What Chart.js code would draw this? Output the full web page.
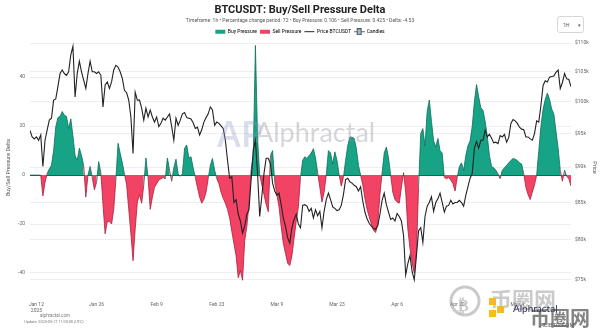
<!DOCTYPE html>
<html>
<head>
<meta charset="utf-8">
<title>BTCUSDT: Buy/Sell Pressure Delta</title>
<script src="https://cdn.jsdelivr.net/npm/chart.js@4.4.1/dist/chart.umd.min.js"></script>
<style>
  html, body { margin: 0; padding: 0; background: #ffffff; }
  #wrap { position: relative; width: 600px; height: 329px; overflow: hidden; }
  #chart { display: block; }
  .tf {
    position: absolute; left: 557px; top: 16px; width: 27px; height: 17px;
    box-sizing: border-box; border: 1px solid #d6d6d6; border-radius: 3px;
    font: 5px Roboto, sans-serif; color: #555; background: #fff;
  }
  .tf span { position: absolute; top: 5px; }
</style>
</head>
<body>
<div id="wrap">
  <canvas id="chart" width="600" height="329"></canvas>
  <div class="tf"><span style="left:5px">1H</span><span style="left:20px">&#9662;</span></div>
</div>
<script>
// Hourly series sampled every 12 hours, first sample 2025-01-10 12:00 UTC
const startUtc = Date.UTC(2025, 0, 10, 12);
const stepHours = 12;

// Buy/Sell pressure delta (positive = buy pressure, negative = sell pressure)
const delta = [
  0, 0, 0, 0, 0, 0, -8.5, -3, 0.7, 2.5,
  4, 10, 19.7, 23.5, 24, 26, 24.5, 24, 19, 23,
  16, 8, 6, 11, 8, 4, -9, 0, 3.5, -1,
  -6, -3, 5.5, 1, -12, -24, -19, -19, -20, -14,
  -2, 13, 9, 5, 0.5, -4, -14, -24, -35, -22,
  -11, -8, -11.5, -4, 7, -1, -14, -9, -5, -3.5,
  -2, -1.5, -1, -1.5, 7, 2, -2.5, 3, 6.5, 0.5,
  -0.5, 0.5, 11, 12.3, 7, 7.5, 3, -1, -5, -9,
  -11.5, -10, -7, -1.5, 4, 6.8, 2, -1.5, -3.5, -7,
  -9.5, -11.5, -14, -17.5, -23, -28, -33, -42, -39, -43,
  -27, -21, -12, 2, 8, 53, 15, 0, -4, -8,
  -12, -15, 8, 10, -3, -8, -13, -21, -28, -32,
  -36, -37, -33, -26, -19, -13, -1, 6, 7.5, 6.8,
  8, 9, 10.8, 7, 1, -5, -11, -7, 0, 10,
  9, 4.5, 9.5, 6, 0, -4.5, -1, 6, 12, 15.5,
  15.5, 15, 11, 4, 0, -4, -9.5, -14, -17, -20,
  -22.5, -23.5, -20, -8, 1, 9, 11.5, 7, 0, -7,
  -10, -11, -11.5, -5, 1, -7, -22, -30, -36, -40,
  -32, -5, 17, 19, 12, 26, 30.7, 22, 14, 11.5,
  15, 10, 9, -1, -1.5, -1, -2, -3.5, -6.5, -1,
  3.5, 5, 2, 8, 12, 14, 20, 30, 37, 32,
  27.5, 26.5, 22, 16, 8, 3.5, 3, 2, 0.5, -1.5,
  2, 3, 4, 5, 6, 6.8, 6.5, 6, 5, 4.5,
  0.5, -5, -8, -10, -7, -4, 0, 10, 20, 27,
  31, 33.5, 31, 27, 25, 18, 11, 2, -2.5, 2,
  -0.5, -1.5, -4.53
];

// BTCUSDT close, thousands of USD
const closeK = [
  95.5, 94.5, 94.2, 94.5, 94.0, 94.8, 90.1, 94.0, 95.6, 97.1,
  97.4, 100.3, 100.5, 102.5, 104.7, 105.3, 104.7, 104.4, 105.0, 107.9,
  109.4, 100.8, 104.7, 106.8, 105.0, 103.6, 102.2, 104.7, 106.8, 105.0,
  105.0, 104.7, 105.0, 104.4, 99.2, 102.8, 103.3, 102.2, 103.3, 105.3,
  106.1, 105.8, 105.0, 103.9, 101.9, 101.5, 100.3, 97.6, 92.0, 101.6,
  100.3, 100.3, 99.0, 97.1, 99.0, 97.6, 98.7, 97.6, 96.8, 97.6,
  96.1, 96.6, 97.4, 97.1, 97.6, 98.1, 96.1, 94.0, 97.4, 96.3,
  97.1, 98.1, 98.3, 97.5, 97.4, 97.3, 96.7, 95.8, 96.0, 94.8,
  95.6, 96.8, 97.5, 98.1, 99.2, 98.7, 96.3, 96.8, 96.6, 96.2,
  95.8, 94.0, 91.0, 88.4, 88.6, 85.0, 85.4, 83.4, 82.5, 80.9,
  81.8, 83.4, 84.0, 88.2, 92.5, 94.0, 89.1, 83.1, 85.9, 89.1,
  91.3, 91.3, 90.5, 87.7, 86.6, 86.0, 86.3, 84.7, 82.9, 81.8,
  80.3, 79.6, 81.6, 82.7, 83.4, 82.1, 81.6, 84.6, 84.7, 84.5,
  83.8, 84.2, 82.9, 84.0, 83.2, 83.8, 81.6, 83.8, 85.4, 86.3,
  85.4, 84.4, 84.2, 83.9, 84.0, 84.6, 86.1, 88.2, 88.4, 87.9,
  87.7, 87.4, 87.2, 86.6, 87.2, 85.2, 83.7, 82.8, 82.2, 81.8,
  81.5, 81.4, 81.9, 83.4, 85.3, 86.3, 84.7, 83.7, 82.7, 82.9,
  82.5, 83.5, 83.1, 82.5, 80.6, 75.6, 77.0, 78.0, 76.0, 75.0,
  78.0, 81.2, 81.6, 79.7, 83.1, 84.5, 85.0, 85.8, 83.8, 85.0,
  85.5, 86.3, 85.0, 83.7, 84.5, 84.6, 85.3, 84.8, 85.0, 85.0,
  85.3, 85.0, 84.5, 86.0, 87.2, 88.4, 89.1, 92.8, 93.8, 92.8,
  94.0, 94.0, 95.5, 94.5, 94.9, 94.3, 93.6, 93.7, 93.5, 94.7,
  94.5, 94.9, 93.7, 94.4, 96.6, 97.2, 97.0, 96.6, 96.0, 95.7,
  95.6, 94.5, 94.5, 94.2, 94.0, 95.0, 97.0, 96.8, 99.5, 102.7,
  103.5, 103.3, 104.1, 104.2, 104.3, 104.9, 105.3, 102.2, 103.2, 104.7,
  103.8, 103.7, 102.5
];

// Axis ticks
const dateTicks = ['2025-01-12', '2025-01-26', '2025-02-09', '2025-02-23', '2025-03-09',
                   '2025-03-23', '2025-04-06', '2025-04-20', '2025-05-04'];
const deltaTicks = [-40, -20, 0, 20, 40];
const priceTicksK = [75, 80, 85, 90, 95, 100, 105, 110];

const BUY = 'rgb(22,163,134)';
const SELL = 'rgb(243,67,101)';
const BUY_EDGE = 'rgb(14,110,92)';
const SELL_EDGE = 'rgb(170,30,60)';
const MONTHS = ['Jan','Feb','Mar','Apr','May','Jun','Jul','Aug','Sep','Oct','Nov','Dec'];

const hourMs = 3600000;
const times = delta.map((_, i) => startUtc + i * stepHours * hourMs);
const tickTimes = dateTicks.map(d => Date.parse(d + 'T00:00:00Z'));

function fmtDate(t, withYear) {
  const d = new Date(t);
  const s = MONTHS[d.getUTCMonth()] + ' ' + d.getUTCDate();
  return withYear ? [s, String(d.getUTCFullYear())] : s;
}

// small candlestick glyph for the legend
const candleIcon = (() => {
  const c = document.createElement('canvas');
  c.width = 11; c.height = 7;
  const g = c.getContext('2d');
  g.strokeStyle = '#666'; g.lineWidth = 1;
  g.beginPath(); g.moveTo(0, 3.5); g.lineTo(11, 3.5); g.stroke();
  g.fillStyle = '#9fb7c8'; g.fillRect(3, 0.5, 5, 6);
  g.strokeStyle = '#555'; g.strokeRect(3.5, 0.5, 4, 6);
  return c;
})();

// fixed legend block height so the plot starts right under it
const legendBlock = {
  id: 'legendBlock',
  beforeInit(chart) {
    const fit = chart.legend.fit;
    chart.legend.fit = function () { fit.bind(chart.legend)(); this.height = 16.8; };
  }
};

// brand marks and footer text
const brandMarks = {
  id: 'brandMarks',
  afterDatasetsDraw(chart) {
    const ctx = chart.ctx;
    ctx.save();
    ctx.textBaseline = 'alphabetic';
    ctx.fillStyle = 'rgba(140,150,195,0.32)';
    ctx.font = '600 36px "Open Sans"';
    ctx.fillText('AP', 217, 147);
    ctx.fillStyle = 'rgba(140,142,152,0.36)';
    ctx.font = '27px Lato';
    ctx.fillText('Alphractal', 255, 142);
    ctx.restore();
  },
  afterDraw(chart) {
    const ctx = chart.ctx;
    ctx.save();
    ctx.fillStyle = '#777';
    ctx.textAlign = 'center';
    ctx.font = '4.5px Roboto';
    ctx.fillText('alphractal.com', 55, 316);
    ctx.font = '3.8px Roboto';
    ctx.fillText('Update: 2025-05-17 11:00:00 (UTC)', 54, 322);

    // site watermark, lower right
    ctx.textAlign = 'left';
    ctx.strokeStyle = 'rgba(150,150,150,0.5)';
    ctx.lineWidth = 3;
    ctx.beginPath(); ctx.arc(465, 301, 14, 0, Math.PI * 2); ctx.stroke();
    ctx.fillStyle = 'rgba(150,150,150,0.5)';
    ctx.font = 'bold 16px "DejaVu Sans"';
    ctx.fillText('\u20bf', 458, 307);
    ctx.font = 'bold 22px "Noto Sans CJK SC"';
    ctx.fillText('\u5e01\u5708\u7f51', 490, 300);
    ctx.fillStyle = 'rgba(247,183,24,0.95)';
    ctx.fillRect(489, 298, 7, 7);
    ctx.fillRect(497, 306, 7, 7);
    ctx.fillRect(489, 310, 7, 7);
    ctx.fillStyle = 'rgba(90,90,90,0.75)';
    ctx.font = 'bold 20px "Noto Sans CJK SC"';
    ctx.fillText('\u5e01\u5708\u7f51', 530, 318);
    ctx.fillStyle = '#2c3350';
    ctx.font = '10px Lato';
    ctx.fillText('Alphractal', 513, 309);
    ctx.fillStyle = 'rgba(80,80,80,0.9)';
    ctx.font = '6px Roboto';
    ctx.fillText('ALIBTC.COM', 540, 325);
    ctx.restore();
  }
};

Chart.defaults.font.family = 'Roboto';
Chart.defaults.color = '#666';

new Chart(document.getElementById('chart'), {
  type: 'line',
  data: {
    datasets: [
      {
        label: 'Price BTCUSDT',
        yAxisID: 'y1',
        data: times.map((t, i) => ({ x: t, y: closeK[i] })),
        borderColor: '#222',
        borderWidth: 1.1,
        pointRadius: 0,
        fill: false,
        order: 1
      },
      {
        label: 'Buy/Sell Pressure',
        yAxisID: 'y',
        data: times.map((t, i) => ({ x: t, y: delta[i] })),
        borderWidth: 0.8,
        pointRadius: 0,
        fill: { target: { value: 0 }, above: BUY, below: SELL },
        segment: {
          borderColor: c => (c.p0.parsed.y + c.p1.parsed.y) >= 0 ? BUY_EDGE : SELL_EDGE
        },
        order: 2
      }
    ]
  },
  options: {
    responsive: false,
    animation: false,
    layout: { padding: 0 },
    plugins: {
      title: {
        display: true,
        text: 'BTCUSDT: Buy/Sell Pressure Delta',
        color: '#222',
        font: { size: 11, weight: 'bold' },
        padding: { top: 4, bottom: 1 }
      },
      subtitle: {
        display: true,
        text: 'Timeframe: 1h \u2022 Percentage change period: 72 \u2022 Buy Pressure: 0.106 \u2022 Sell Pressure: 0.425 \u2022 Delta: -4.53',
        color: '#555',
        font: { size: 5 },
        padding: { top: 0, bottom: 2 }
      },
      legend: {
        display: true,
        labels: {
          usePointStyle: true,
          pointStyleWidth: 10,
          boxHeight: 4,
          padding: 3,
          color: '#555',
          font: { size: 5 },
          generateLabels: () => [
            { text: 'Buy Pressure', fillStyle: BUY, strokeStyle: BUY, lineWidth: 0, pointStyle: 'rect', datasetIndex: 1 },
            { text: 'Sell Pressure', fillStyle: SELL, strokeStyle: SELL, lineWidth: 0, pointStyle: 'rect', datasetIndex: 1 },
            { text: 'Price BTCUSDT', fillStyle: '#222', strokeStyle: '#222', lineWidth: 1, pointStyle: 'line', datasetIndex: 0 },
            { text: 'Candles', pointStyle: candleIcon, lineWidth: 0, datasetIndex: 0 }
          ]
        }
      },
      tooltip: { enabled: false }
    },
    scales: {
      x: {
        type: 'linear',
        min: times[0],
        max: times[times.length - 1],
        offset: false,
        grid: { display: false, drawTicks: false },
        border: { display: false },
        afterBuildTicks: s => { s.ticks = tickTimes.map(v => ({ value: v })); },
        afterFit: s => { s.height = 37; },
        ticks: {
          autoSkip: false,
          maxRotation: 0,
          padding: 10,
          color: '#666',
          font: { size: 5 },
          callback: (v, i) => fmtDate(v, i === 0)
        }
      },
      y: {
        position: 'left',
        min: -47.8,
        max: 54,
        border: { display: false },
        grid: {
          drawTicks: false,
          lineWidth: 1,
          color: c => c.tick && c.tick.value === 0 ? '#3b524e' : '#eeeeee'
        },
        afterBuildTicks: s => { s.ticks = deltaTicks.map(v => ({ value: v })); },
        afterFit: s => { s.width = 30; },
        ticks: { padding: 5, color: '#666', font: { size: 5 } },
        title: {
          display: true,
          text: 'Buy/Sell Pressure Delta',
          color: '#555',
          font: { size: 5.5 },
          padding: { top: 5.5, bottom: 0 }
        }
      },
      y1: {
        type: 'logarithmic',
        position: 'right',
        min: 73.55,
        max: 110,
        border: { display: false },
        grid: { drawTicks: false, color: '#eeeeee' },
        afterBuildTicks: s => { s.ticks = priceTicksK.map(v => ({ value: v })); },
        afterFit: s => { s.width = 29; },
        ticks: { padding: 4, color: '#666', font: { size: 5 }, callback: v => '$' + v + 'k' },
        title: {
          display: true,
          text: 'Price',
          color: '#555',
          font: { size: 5.5 },
          padding: { top: 2.7, bottom: 0 }
        }
      }
    }
  },
  plugins: [legendBlock, brandMarks]
});
</script>
</body>
</html>
